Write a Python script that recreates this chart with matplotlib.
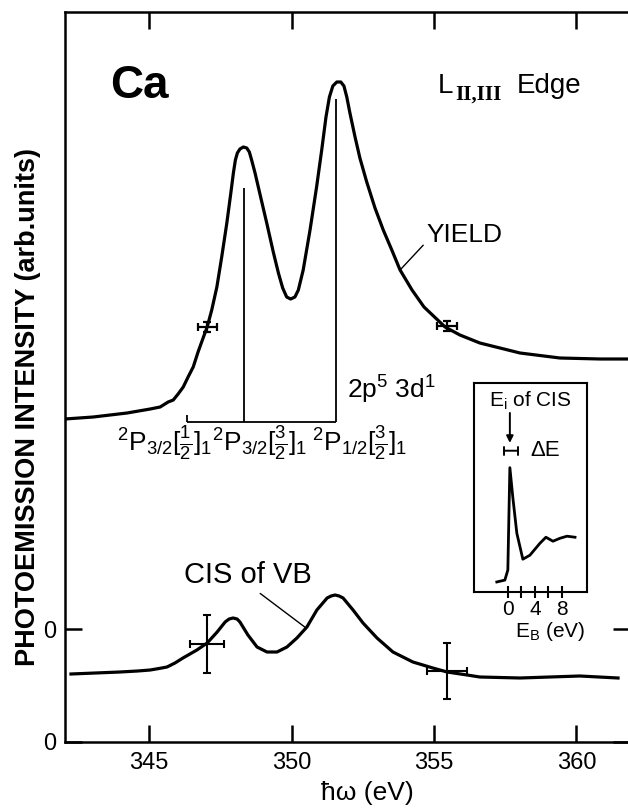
import matplotlib
matplotlib.use('Agg')
import matplotlib.pyplot as plt

FONT = 'Liberation Sans'
plt.rcParams['font.family'] = [FONT, 'DejaVu Sans']
plt.rcParams['mathtext.fontset'] = 'custom'
plt.rcParams['mathtext.rm'] = FONT
plt.rcParams['mathtext.it'] = FONT
plt.rcParams['mathtext.bf'] = FONT + ':bold'
plt.rcParams['mathtext.default'] = 'regular'

# partial yield spectrum (photon energy eV, arb. units)
yield_e = [342.05, 343.04, 344.23, 345.04, 345.39, 345.67, 345.85, 346.02, 346.20, 346.37,
           346.55, 346.72, 346.91, 347.04, 347.20, 347.38, 347.55, 347.73, 347.87, 347.96,
           348.03, 348.10, 348.19, 348.31, 348.43, 348.52, 348.60, 348.72, 348.90, 349.13,
           349.36, 349.54, 349.69, 349.83, 349.97, 350.12, 350.24, 350.41, 350.65, 350.88,
           351.06, 351.21, 351.33, 351.45, 351.59, 351.73, 351.84, 351.94, 352.05, 352.23,
           352.40, 352.64, 352.93, 353.22, 353.52, 353.81, 354.23, 354.65, 355.39, 355.91,
           356.61, 358.02, 359.42, 360.83, 361.77]
yield_i = [3.23, 3.25, 3.29, 3.33, 3.35, 3.40, 3.42, 3.48, 3.55, 3.65,
           3.75, 3.90, 4.05, 4.15, 4.32, 4.55, 4.85, 5.19, 5.49, 5.69,
           5.82, 5.89, 5.93, 5.95, 5.94, 5.90, 5.82, 5.69, 5.47, 5.19,
           4.90, 4.69, 4.54, 4.45, 4.43, 4.45, 4.52, 4.72, 5.12, 5.55,
           5.92, 6.25, 6.45, 6.56, 6.60, 6.60, 6.56, 6.45, 6.29, 6.05,
           5.84, 5.60, 5.34, 5.12, 4.92, 4.72, 4.52, 4.35, 4.15, 4.07,
           3.99, 3.89, 3.84, 3.83, 3.83]

# CIS of valence band
cis_e = [342.26, 343.98, 344.60, 345.04, 345.35, 345.63, 345.91, 346.19, 346.68, 347.04,
         347.39, 347.67, 347.81, 347.95, 348.09, 348.19, 348.47, 348.79, 349.14, 349.49,
         349.84, 350.19, 350.54, 350.89, 351.25, 351.39, 351.53, 351.67, 351.81, 352.16,
         352.51, 353.00, 353.56, 354.26, 354.96, 355.46, 356.16, 356.61, 358.02, 360.12,
         361.46]
cis_i = [0.68, 0.70, 0.71, 0.72, 0.735, 0.75, 0.79, 0.84, 0.92, 0.99,
         1.10, 1.20, 1.23, 1.24, 1.23, 1.20, 1.07, 0.95, 0.90, 0.90,
         0.95, 1.04, 1.15, 1.32, 1.44, 1.46, 1.47, 1.46, 1.44, 1.32,
         1.19, 1.04, 0.90, 0.80, 0.74, 0.70, 0.67, 0.65, 0.64, 0.66,
         0.64]
cis_zero = 1.13

yield_err_e = [347.04, 355.46]
yield_err_i = [4.15, 4.16]
yield_err_de = [0.33, 0.35]
yield_err_di = [0.05, 0.05]

cis_err_e = [347.04, 355.46]
cis_err_i = [0.98, 0.71]
cis_err_de = [0.60, 0.70]
cis_err_di = [0.29, 0.28]

# 2p5 3d1 levels
level_e = [346.33, 348.33, 351.56]
level_top = [3.27, 5.54, 6.43]
level_base = 3.20
level_labels = [r'$^2$P$_{3/2}$[$\frac{1}{2}$]$_1$',
                r'$^2$P$_{3/2}$[$\frac{3}{2}$]$_1$',
                r'$^2$P$_{1/2}$[$\frac{3}{2}$]$_1$']
level_label_e = [345.56, 348.89, 352.40]

# inset: EDC at E_i
inset_eb = [-1.63, -0.44, 0.0, 0.30, 0.74, 1.33, 2.22, 3.26, 4.74, 5.63, 6.67, 7.70, 8.74, 9.93]
inset_i = [0.048, 0.057, 0.105, 0.595, 0.452, 0.281, 0.157, 0.176, 0.233, 0.262, 0.243, 0.257, 0.267, 0.262]

fig = plt.figure(figsize=(6.28, 8.09), dpi=100)
ax = fig.add_axes([65/628, 67/809, 565/628, 730/809])

ax.plot(yield_e, yield_i, color='black', lw=2.3, solid_joinstyle='round')
ax.plot(cis_e, cis_i, color='black', lw=2.3, solid_joinstyle='round')
ax.errorbar(yield_err_e, yield_err_i, xerr=yield_err_de, yerr=yield_err_di,
            fmt='none', ecolor='black', elinewidth=1.6, capsize=3, capthick=1.6)
ax.errorbar(cis_err_e, cis_err_i, xerr=cis_err_de, yerr=cis_err_di,
            fmt='none', ecolor='black', elinewidth=1.5, capsize=3, capthick=1.5)

ax.vlines(level_e, level_base, level_top, color='black', lw=1.3)
ax.hlines(level_base, level_e[0], level_e[-1], color='black', lw=1.3)
for e, lab in zip(level_label_e, level_labels):
    ax.text(e, 2.98, lab, ha='center', va='center', fontsize=19)
ax.text(351.95, 3.52, r'2p$^5$ 3d$^1$', ha='left', va='center', fontsize=19)

ax.text(343.63, 6.44, 'Ca', ha='left', va='baseline', fontsize=33, fontweight='bold')
ax.text(355.14, 6.49, 'L', ha='left', va='baseline', fontsize=20)
ax.text(355.74, 6.42, 'II,III', ha='left', va='baseline', fontsize=15,
        family='Liberation Serif', fontweight='bold')
ax.text(357.91, 6.49, 'Edge', ha='left', va='baseline', fontsize=20)

ax.annotate('YIELD', xy=(353.81, 4.72), xytext=(354.72, 5.07), ha='left', va='center',
            fontsize=19, arrowprops=dict(arrowstyle='-', lw=1.0, relpos=(0, 0.2),
                                         shrinkA=0, shrinkB=0))
ax.annotate('CIS of VB', xy=(350.51, 1.14), xytext=(348.47, 1.67), ha='center', va='center',
            fontsize=21, arrowprops=dict(arrowstyle='-', lw=1.0, relpos=(0.55, 0),
                                         shrinkA=2, shrinkB=0))

ax.set_xlim(342.05, 361.88)
ax.set_ylim(0, 7.30)
ax.set_xticks([345, 350, 355, 360])
ax.set_yticks([0, cis_zero])
ax.set_yticklabels(['0', '0'])
ax.tick_params(axis='x', direction='in', length=12, width=1.8, top=True, labelsize=17, pad=7)
ax.tick_params(axis='y', direction='in', length=12, width=1.8, right=True, labelsize=17, pad=6)
for sp in ax.spines.values():
    sp.set_linewidth(1.8)

fig.text(367/628, 9/809, 'ħω (eV)', ha='center', va='baseline', fontsize=19)
fig.text(28/628, 1 - 407/809, 'PHOTOEMISSION INTENSITY (arb.units)', rotation=90,
         ha='center', va='center', fontsize=19.5, fontweight='bold')

# inset
axi = fig.add_axes([474/628, 1 - 592/809, 113/628, 209/809])
axi.plot(inset_eb, inset_i, color='black', lw=2.0, solid_joinstyle='round')
axi.set_xlim(-5.0, 11.7)
axi.set_ylim(0, 1)
axi.set_yticks([])
axi.set_xticks([0, 2, 4, 6, 8])
axi.set_xticklabels(['0', '', '4', '', '8'])
axi.tick_params(axis='x', direction='inout', length=8, width=1.5, labelsize=15, pad=2)
for sp in axi.spines.values():
    sp.set_linewidth(1.5)
axi.text(0.673, -0.19, r'E$_B$ (eV)', transform=axi.transAxes, ha='center', va='center', fontsize=15)
axi.text(0.5, 0.915, r'E$_i$ of CIS', transform=axi.transAxes, ha='center', va='center', fontsize=15)
axi.annotate('', xy=(0.3, 0.70), xytext=(0.3, 0.87),
             arrowprops=dict(arrowstyle='-|>', lw=1.4, color='black', mutation_scale=10))
axi.annotate('', xy=(-1.0, 0.676), xytext=(1.9, 0.676),
             arrowprops=dict(arrowstyle='|-|', lw=1.4, color='black', mutation_scale=3))
axi.text(5.5, 0.676, 'ΔE', ha='center', va='center', fontsize=16)

fig.savefig('out.png', dpi=100)
